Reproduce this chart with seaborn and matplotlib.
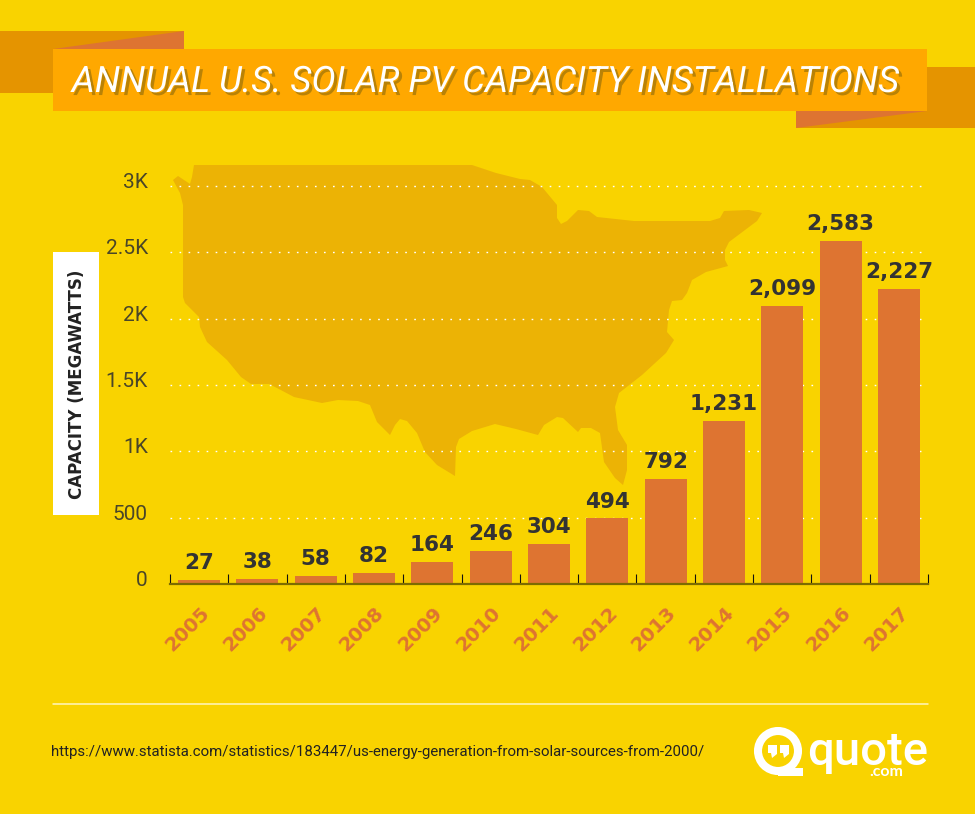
#!/usr/bin/env python3
"""Annual U.S. solar PV capacity installations, bar chart on a yellow poster."""

import matplotlib

matplotlib.use("Agg")

import matplotlib.patheffects as pe
import matplotlib.pyplot as plt
import matplotlib.transforms as mtransforms
import pandas as pd
import seaborn as sns
from matplotlib.patches import Circle, Polygon, Rectangle

# Data
years = ["2005", "2006", "2007", "2008", "2009", "2010", "2011", "2012", "2013", "2014", "2015", "2016", "2017"]
capacity = [27, 38, 58, 82, 164, 246, 304, 494, 792, 1231, 2099, 2583, 2227]
y_ticks = [0, 500, 1000, 1500, 2000, 2500, 3000]
y_tick_labels = ["0", "500", "1K", "1.5K", "2K", "2.5K", "3K"]

TITLE = "ANNUAL U.S. SOLAR PV CAPACITY INSTALLATIONS"
Y_LABEL = "CAPACITY (MEGAWATTS)"
SOURCE = "https://www.statista.com/statistics/183447/us-energy-generation-from-solar-sources-from-2000/"

# Colours
YELLOW = "#f9d300"
BANNER = "#ffa800"
RIBBON = "#e59400"
ORANGE = "#de7431"
MAP = "#ecb305"
DARK = "#333333"

# Map backdrop outline, traced in picture pixels
map_outline = [
    (194, 165), (472, 165), (496, 173), (520, 179), (530, 180), (542, 187), (557, 205), (557, 218),
    (561, 224), (567, 221), (578, 210), (589, 211), (597, 217), (634, 221), (710, 221), (720, 218),
    (724, 211), (749, 210), (762, 213), (757, 221), (729, 242), (725, 250), (725, 260), (728, 266),
    (706, 272), (692, 280), (687, 293), (682, 300), (672, 301), (669, 310), (667, 332), (674, 340),
    (666, 353), (642, 375), (619, 393), (615, 407), (618, 430), (627, 445), (627, 470), (623, 485),
    (615, 478), (604, 462), (600, 433), (591, 428), (581, 428), (578, 432), (563, 418), (557, 417),
    (544, 425), (538, 435), (516, 429), (495, 424), (472, 431), (459, 439), (456, 447), (455, 476),
    (437, 465), (425, 452), (417, 433), (407, 421), (400, 419), (395, 425), (390, 435), (377, 422),
    (370, 405), (358, 401), (338, 400), (322, 403), (294, 397), (277, 388), (269, 384), (251, 384),
    (241, 377), (227, 360), (207, 342), (200, 327), (199, 317), (185, 303), (183, 297), (183, 205),
    (180, 193), (173, 180), (178, 176), (190, 184), (192, 177),
]

fig = plt.figure(figsize=(9.75, 8.14), dpi=100)
sns.set_theme(style="white", rc={"axes.facecolor": "none", "figure.facecolor": YELLOW})
fig.patch.set_facecolor(YELLOW)

# Full-figure layer in pixel coordinates for the poster furniture
bg = fig.add_axes([0, 0, 1, 1], zorder=0)
bg.set_xlim(0, 975)
bg.set_ylim(814, 0)
bg.axis("off")

bg.add_patch(Polygon(map_outline, closed=True, fc=MAP, ec="none"))

# Title ribbon
bg.add_patch(Rectangle((0, 31), 184, 62, fc=RIBBON, ec="none"))
bg.add_patch(Polygon([(53, 49), (184, 31), (184, 49)], fc=ORANGE, ec="none"))
bg.add_patch(Rectangle((796, 67), 179, 61, fc=RIBBON, ec="none"))
bg.add_patch(Polygon([(796, 128), (927, 111), (796, 111)], fc=ORANGE, ec="none"))
bg.add_patch(Rectangle((53, 49), 874, 62, fc=BANNER, ec="none"))
bg.text(
    485, 82, TITLE, color="white", ha="center", va="center", fontsize=26.2,
    family="Roboto", style="italic",
    path_effects=[pe.withSimplePatchShadow(offset=(2.2, -2.2), shadow_rgbFace="#b98206", alpha=1)],
)

# Y axis title box
bg.add_patch(Rectangle((53, 252), 46, 263, fc="white", ec="none"))
bg.text(77, 384, Y_LABEL, color="#222222", rotation=90, ha="center", va="center", fontsize=12,
        family="DejaVu Sans", weight="bold")

# Footer
bg.plot([53, 928], [704, 704], color="#fff6c0", lw=1.1)
bg.text(51, 752, SOURCE, color="#222222", ha="left", va="center", fontsize=10.8, family="Roboto")

# Logo
bg.add_patch(Circle((778, 751), 20, fc="none", ec="white", lw=5.8))
bg.add_patch(Rectangle((778, 767.5), 25, 8, fc="white", ec="none"))
bg.add_patch(Polygon([(768, 745), (777, 745), (777, 754), (772, 758), (771, 753), (768, 753)], fc="white", ec="none"))
bg.add_patch(Polygon([(780, 745), (789, 745), (789, 754), (784, 758), (783, 753), (780, 753)], fc="white", ec="none"))
bg.text(868, 765, "quote", color="white", ha="center", va="baseline", fontsize=34,
        family="Roboto", weight="medium")
bg.text(886, 776, ".com", color="white", ha="center", va="baseline", fontsize=11.5, family="Lato", weight="bold")

# Chart
df = pd.DataFrame({"year": years, "capacity": capacity})

ax = fig.add_axes([170 / 975, (814 - 584) / 814, 758 / 975, 419 / 814], zorder=1)
ax.set_facecolor("none")
ax.grid(False)
for y in y_ticks[1:]:
    ax.axhline(y, color="white", lw=1.0, linestyle=(0, (1.2, 5.3)), zorder=0.5)

sns.barplot(data=df, x="year", y="capacity", color=ORANGE, saturation=1, width=0.72,
            linewidth=0, edgecolor="none", ax=ax, zorder=2)
for container in ax.containers:
    ax.bar_label(container, labels=[f"{v:,}" for v in capacity], padding=5, fontsize=15.5,
                 color=DARK, family="DejaVu Sans", weight="bold")

ax.set_xlim(-0.5, 12.5)
ax.set_ylim(0, 419 / 0.13267)
ax.set_xlabel("")
ax.set_ylabel("")

for side in ["top", "right", "left"]:
    ax.spines[side].set_visible(False)
ax.spines["bottom"].set_color("#7d6c00")
ax.spines["bottom"].set_linewidth(1.6)

ax.set_yticks(y_ticks)
ax.set_yticklabels(y_tick_labels, fontsize=15, color="#4a4628", family="Roboto")
ax.tick_params(axis="y", length=0, pad=16)
y_shift = mtransforms.ScaledTranslation(0, 4 / 72, fig.dpi_scale_trans)
for lab in ax.get_yticklabels():
    lab.set_transform(lab.get_transform() + y_shift)

# Year labels sit left of their bars, ticks mark category boundaries
ax.set_xticks(range(len(years)))
ax.set_xticklabels(years, rotation=45, ha="center", fontsize=14, color=ORANGE, family="DejaVu Sans", weight="bold")
ax.tick_params(axis="x", which="major", length=0, pad=14)
x_shift = mtransforms.ScaledTranslation(-8.6 / 72, 0, fig.dpi_scale_trans)
for lab in ax.get_xticklabels():
    lab.set_transform(lab.get_transform() + x_shift)
ax.set_xticks([i - 0.5 for i in range(len(years) + 1)], minor=True)
ax.tick_params(axis="x", which="minor", direction="in", length=7, width=0.8, color="#111111", bottom=True)

fig.savefig("out.png", dpi=100, facecolor=YELLOW)
